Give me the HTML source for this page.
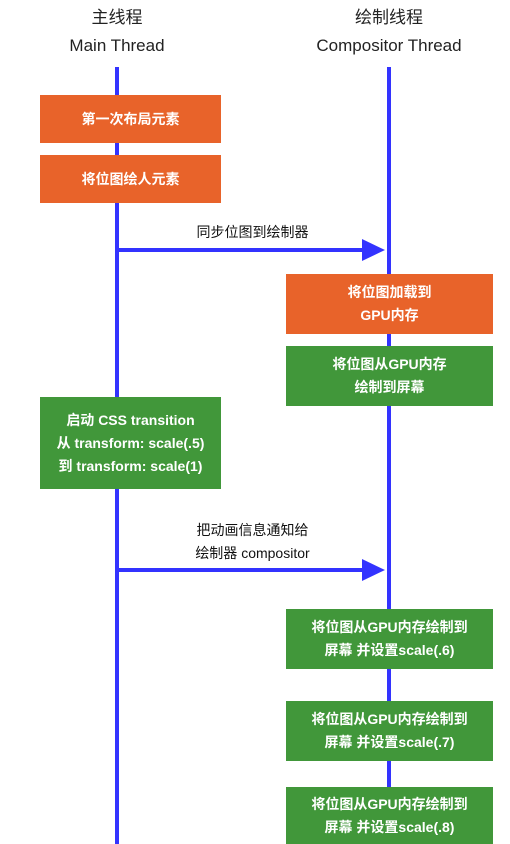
<!DOCTYPE html>
<html><head><meta charset="utf-8"><style>
body{margin:0;width:510px;height:844px;background:#fff;position:relative;overflow:hidden;font-family:"Liberation Sans","Noto Sans CJK SC",sans-serif}
.t{position:absolute;text-align:center;color:#222;font-size:17px;line-height:28px}
.l{position:absolute;background:#3333ff;width:4px;top:67px;height:777px}
.b{position:absolute;color:#fff;font-weight:bold;font-size:14px;display:flex;align-items:center;justify-content:center;text-align:center;line-height:23px}
.o{background:#e8632a}.g{background:#41973a}
.lab{position:absolute;font-size:14px;color:#111;text-align:center;line-height:23px}
</style></head><body>
<div class="t" style="left:17px;width:200px;top:4px">主线程<br>Main Thread</div>
<div class="t" style="left:289px;width:200px;top:4px">绘制线程<br>Compositor Thread</div>
<div class="l" style="left:115px"></div>
<div class="l" style="left:387px"></div>
<div class="b o" style="left:40px;top:95px;width:181px;height:48px">第一次布局元素</div>
<div class="b o" style="left:40px;top:155px;width:181px;height:48px">将位图绘人元素</div>
<div class="lab" style="left:120px;width:265px;top:221px">同步位图到绘制器</div>
<svg style="position:absolute;left:0;top:0" width="510" height="844">
<line x1="119" y1="250" x2="364" y2="250" stroke="#3333ff" stroke-width="4"/>
<polygon points="362,239 385,250 362,261" fill="#3333ff"/>
<line x1="119" y1="570" x2="364" y2="570" stroke="#3333ff" stroke-width="4"/>
<polygon points="362,559 385,570 362,581" fill="#3333ff"/>
</svg>
<div class="b o" style="left:286px;top:274px;width:207px;height:60px">将位图加载到<br>GPU内存</div>
<div class="b g" style="left:286px;top:346px;width:207px;height:60px">将位图从GPU内存<br>绘制到屏幕</div>
<div class="b g" style="left:40px;top:397px;width:181px;height:92px">启动 CSS transition<br>从 transform: scale(.5)<br>到 transform: scale(1)</div>
<div class="lab" style="left:120px;width:265px;top:519px">把动画信息通知给<br>绘制器 compositor</div>
<div class="b g" style="left:286px;top:609px;width:207px;height:60px">将位图从GPU内存绘制到<br>屏幕 并设置scale(.6)</div>
<div class="b g" style="left:286px;top:701px;width:207px;height:60px">将位图从GPU内存绘制到<br>屏幕 并设置scale(.7)</div>
<div class="b g" style="left:286px;top:787px;width:207px;height:57px">将位图从GPU内存绘制到<br>屏幕 并设置scale(.8)</div>
</body></html>
